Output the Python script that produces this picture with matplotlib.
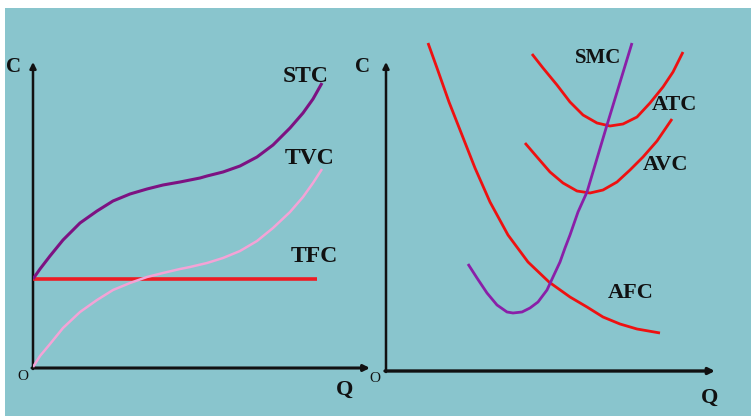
import matplotlib
matplotlib.use("Agg")
import matplotlib.pyplot as plt
from matplotlib.patches import Rectangle

# left panel: total cost curves (Q, C)
stc_q = [0, 7, 17, 30, 47, 64, 80, 97, 114, 130, 147, 167, 174, 190, 207, 224, 240, 257, 270, 280, 289]
stc_c = [89, 99, 112, 128, 145, 157, 167, 174, 179, 183, 186, 190, 192, 196, 202, 211, 223, 240, 255, 269, 285]
tvc_q = [0, 7, 17, 30, 47, 64, 80, 97, 114, 130, 147, 157, 174, 190, 207, 224, 240, 257, 270, 280, 289]
tvc_c = [1, 12, 24, 40, 56, 68, 78, 85, 91, 95, 99, 101, 105, 110, 117, 127, 140, 156, 171, 185, 199]
tfc_q = [0, 284]
tfc_c = [89, 89]

# right panel: average / marginal cost curves
afc_q = [42, 51, 63, 76, 89, 104, 122, 142, 163, 184, 201, 217, 234, 251, 274]
afc_c = [328, 303, 269, 236, 203, 169, 136, 109, 89, 74, 64, 54, 47, 42, 38]
smc_q = [82, 91, 101, 111, 121, 127, 136, 144, 152, 161, 167, 174, 179, 184, 192, 201, 221, 246]
smc_c = [107, 93, 78, 66, 59, 58, 59, 63, 69, 81, 94, 109, 123, 136, 159, 179, 246, 328]
atc_q = [146, 157, 171, 184, 197, 211, 224, 237, 251, 264, 277, 287, 297]
atc_c = [317, 303, 286, 269, 256, 248, 245, 247, 254, 268, 284, 299, 319]
avc_q = [139, 151, 164, 177, 191, 204, 217, 231, 244, 257, 271, 286]
avc_c = [228, 214, 199, 188, 180, 178, 181, 189, 201, 214, 230, 252]

BG = "#89c5cd"
W, H = 751, 418

fig = plt.figure(figsize=(W / 100, H / 100), dpi=100)
fig.patch.set_facecolor("white")
fig.add_artist(Rectangle((5 / W, 2 / H), 746 / W, 408 / H,
                         transform=fig.transFigure, facecolor=BG, edgecolor="none", zorder=0))

serif = "Liberation Serif"


def make_ax(x0, y0, x1, y1):
    # pixel box -> figure fraction, data units = pixels from origin
    ax = fig.add_axes([x0 / W, (H - y1) / H, (x1 - x0) / W, (y1 - y0) / H])
    ax.set_xlim(0, x1 - x0)
    ax.set_ylim(0, y1 - y0)
    ax.axis("off")
    ax.patch.set_alpha(0)
    return ax


def axes_arrows(ax, xend, yend, lwx, lwy):
    ax.annotate("", xy=(xend, 0), xytext=(-1, 0),
                arrowprops=dict(arrowstyle="-|>", lw=lwx, color="#111111",
                                shrinkA=0, shrinkB=0, mutation_scale=9))
    ax.annotate("", xy=(0, yend), xytext=(0, -1),
                arrowprops=dict(arrowstyle="-|>", lw=lwy, color="#111111",
                                shrinkA=0, shrinkB=0, mutation_scale=9))


def label(ax, q, c, s, size=17, bold=True):
    ax.text(q, c, s, ha="center", va="center", fontsize=size, family=serif,
            fontweight="bold" if bold else "normal", color="#111111", clip_on=False)


def curve(ax, q, c, color, lw, z=4):
    ax.plot(q, c, color=color, lw=lw, zorder=z, solid_joinstyle="round",
            solid_capstyle="butt")


# left panel
ax1 = make_ax(33, 30, 380, 368)
axes_arrows(ax1, 337, 306, 2.2, 1.8)
curve(ax1, tfc_q, tfc_c, "#ee1c24", 2.6, 3)
curve(ax1, tvc_q, tvc_c, "#f4a3d6", 1.8)
curve(ax1, stc_q, stc_c, "#7d1282", 2.2)
label(ax1, -20, 301, "C", 15)
label(ax1, -10, -9, "O", 11, bold=False)
label(ax1, 312, -22, "Q", 16)
label(ax1, 273, 291, "STC")
label(ax1, 277, 210, "TVC")
label(ax1, 281, 111, "TFC")

# right panel
ax2 = make_ax(386, 30, 730, 371)
axes_arrows(ax2, 329, 309, 2.4, 1.8)
curve(ax2, afc_q, afc_c, "#ee1111", 2.0, 3)
curve(ax2, atc_q, atc_c, "#ee1111", 2.0, 3)
curve(ax2, avc_q, avc_c, "#ee1111", 2.0, 3)
curve(ax2, smc_q, smc_c, "#8a1fa8", 2.0)
label(ax2, -23, 304, "C", 15)
label(ax2, -11, -7, "O", 11, bold=False)
label(ax2, 324, -27, "Q", 16)
label(ax2, 212, 313, "SMC", 15)
label(ax2, 288, 266, "ATC", 16)
label(ax2, 280, 206, "AVC", 16)
label(ax2, 245, 78, "AFC", 16)

fig.savefig("out.png", dpi=100, facecolor="white")
